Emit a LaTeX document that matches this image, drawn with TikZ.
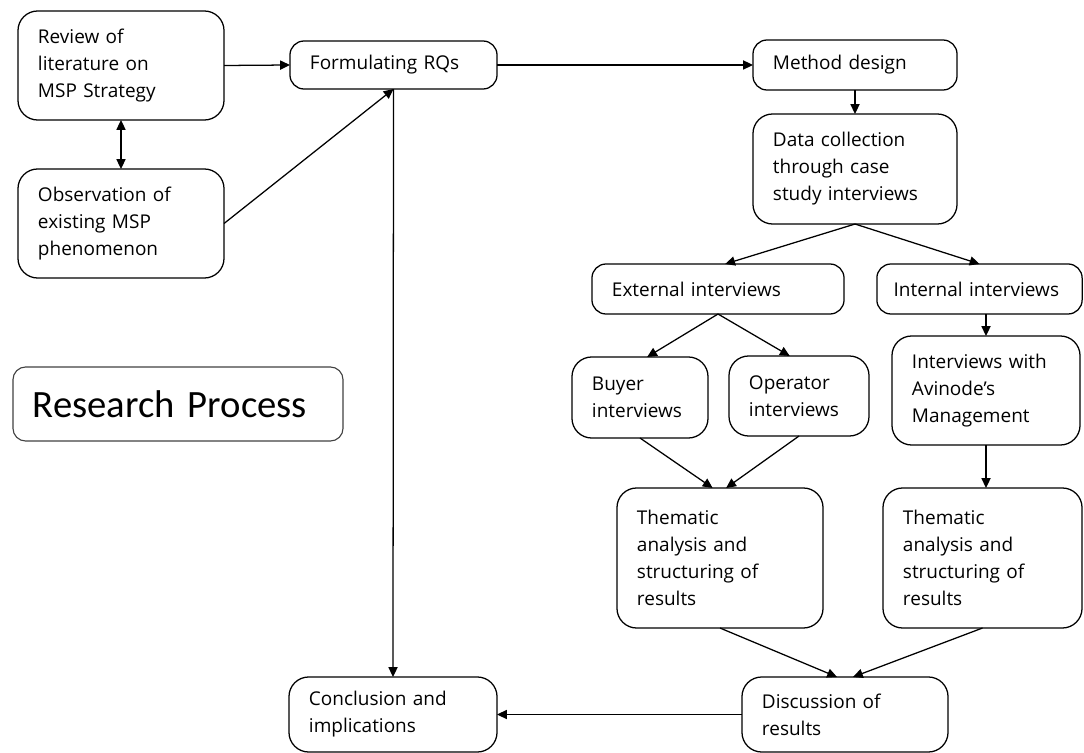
\documentclass[tikz,border=0pt]{standalone}
\usepackage{fontspec}
\setmainfont{Open Sans}
\newfontfamily\titlefont{Carlito}
\usetikzlibrary{positioning, arrows.meta}

\begin{document}
\begin{tikzpicture}[x=0.025cm, y=-0.025cm, font=\fontsize{13.5}{19.2}\selectfont,
  blk/.style={draw, rounded corners=10pt, align=left, inner xsep=0.5cm, inner ysep=0pt, outer sep=0pt, line width=0.9pt},
  tall/.style={blk, rounded corners=14pt},
  arr/.style={line width=0.9pt, -{Triangle[length=7pt, width=6.5pt]}}]
\useasboundingbox (0,0) rectangle (1084,753);
% left column
\node[tall, text width=4.15cm, minimum height=2.725cm] (rev) at (121,65.5) {Review of\\literature on\\MSP Strategy};
\node[tall, text width=4.15cm, minimum height=2.725cm] (obs) at (121,223.5) {Observation of\\existing MSP\\phenomenon};
\node[blk, text width=4.175cm, minimum height=1.2cm] (rqs) at (393.5,65) {Formulating RQs};
\node[blk, draw=black!75, line width=0.8pt, rounded corners=9pt, text width=7.25cm, minimum height=1.85cm,
  font=\titlefont\fontsize{27.5}{32}\selectfont] (title) at (178,404) {Research Process};
\node[tall, text width=4.2cm, minimum height=1.875cm] (conc) at (393,714.5) {Conclusion and\\implications};
% right part
\node[blk, text width=4.1cm, minimum height=1.25cm] (meth) at (855,65) {Method design};
\node[tall, text width=4.1cm, minimum height=2.75cm] (data) at (855,169) {Data collection\\through case\\study interviews};
\node[blk, text width=5.3cm, minimum height=1.25cm] (ext) at (718,289) {External interviews};
\node[blk, inner xsep=0.42cm, text width=4.29cm, minimum height=1.25cm] (int) at (979.5,289) {\mbox{Internal interviews}};
\node[tall, text width=2.4cm, minimum height=2.025cm] (buy) at (640,397.5) {Buyer\\interviews};
\node[tall, text width=2.5cm, minimum height=2cm] (opr) at (799,396) {Operator\\interviews};
\node[tall, text width=3.7cm, minimum height=2.725cm] (mgmt) at (986,390.5) {Interviews with\\Avinode’s\\Management};
\node[tall, text width=4.15cm, minimum height=3.5cm] (th1) at (720,558) {Thematic\\analysis and\\structuring of\\results};
\node[tall, text width=3.975cm, minimum height=3.5cm] (th2) at (982.5,558) {Thematic\\analysis and\\structuring of\\results};
\node[tall, text width=4.15cm, minimum height=1.875cm] (disc) at (845,714.5) {Discussion of\\results};

% connectors
\draw[arr] (rev.east) -- (rqs.west);
\draw[arr, {Triangle[length=7pt, width=6.5pt]}-{Triangle[length=7pt, width=6.5pt]}] (rev.south) -- (obs.north);
\draw[arr] (obs.east) -- (rqs.south);
\draw[arr] (rqs.south) -- (conc.north);
\draw[arr] (rqs.east) -- (meth.west);
\draw[arr] (meth.south) -- (data.north);
\draw[arr] (data.south) -- (ext.74);
\draw[arr] (data.south) -- (int.north);
\draw[arr] (ext.south) -- (buy.80);
\draw[arr] (ext.south) -- (opr.103);
\draw[arr] (int.south -| mgmt.north) -- (mgmt.north);
\draw[arr] (buy.south) -- (th1.96);
\draw[arr] (opr.south) -- (th1.85);
\draw[arr] (mgmt.south) -- (mgmt.south |- th2.north);
\draw[arr] (th1.south) -- (disc.102);
\draw[arr] (th2.south) -- (disc.78);
\draw[arr] (disc.west) -- (conc.east);
\end{tikzpicture}
\end{document}
